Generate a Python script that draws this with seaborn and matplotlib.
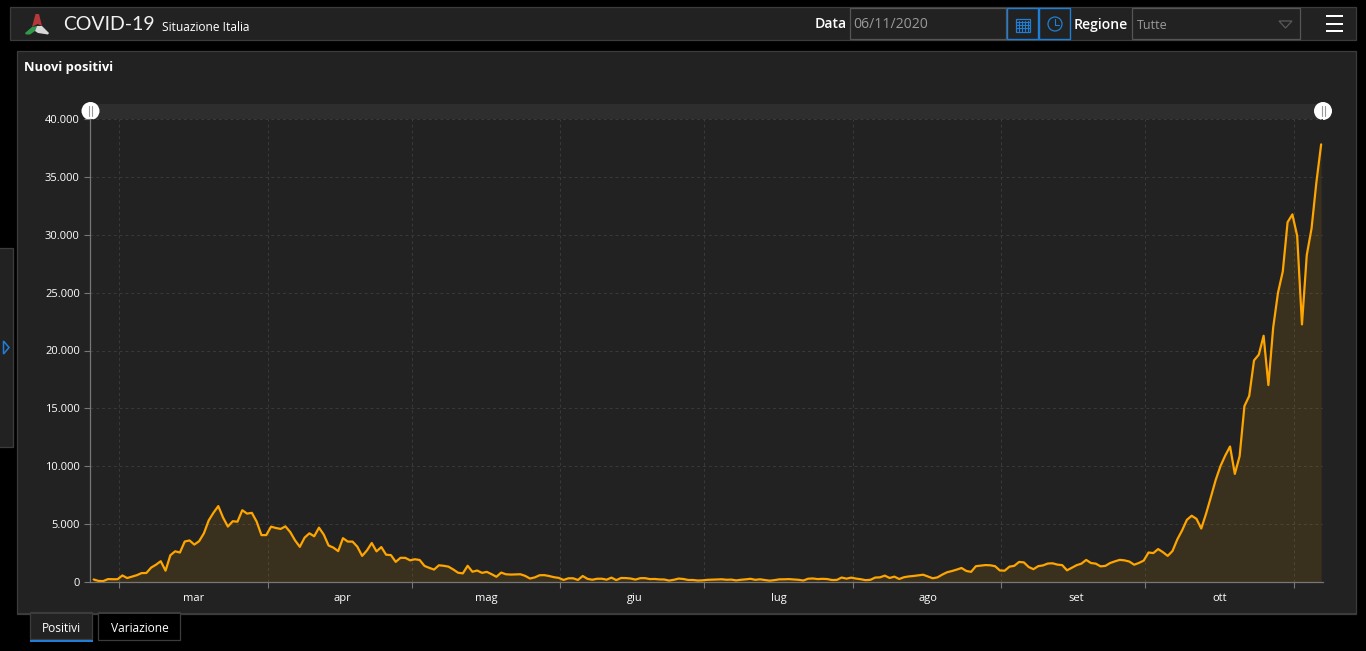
import datetime as dt
import matplotlib
matplotlib.use("Agg")
import matplotlib.pyplot as plt
import matplotlib.dates as mdates
from matplotlib.patches import Rectangle, Circle, Polygon
import pandas as pd
import seaborn as sns

feb = [221, 93, 78, 250, 238, 240]
mar = [566, 342, 466, 587, 769, 778, 1247, 1492, 1797, 977, 2313, 2651, 2547, 3497, 3590, 3233,
       3526, 4207, 5322, 5986, 6557, 5560, 4789, 5249, 5210, 6203, 5909, 5974, 5217, 4050, 4053]
apr = [4782, 4668, 4585, 4805, 4316, 3599, 3039, 3836, 4204, 3951, 4694, 4092, 3153, 2972, 2667,
       3786, 3493, 3491, 3047, 2256, 2729, 3370, 2646, 3021, 2357, 2324, 1739, 2091, 2086, 1872]
may = [1965, 1900, 1389, 1221, 1075, 1444, 1401, 1327, 1083, 802, 744, 1402, 888, 992, 789, 875,
       675, 451, 813, 665, 642, 652, 669, 531, 300, 397, 584, 593, 516, 416, 355]
jun = [178, 318, 321, 177, 518, 270, 197, 280, 283, 202, 379, 163, 346, 338, 301, 210, 329, 333,
       251, 262, 224, 218, 122, 190, 296, 259, 175, 174, 126, 142]
jul = [187, 201, 223, 235, 192, 208, 138, 193, 229, 276, 188, 234, 169, 114, 162, 230, 233, 249,
       219, 190, 129, 282, 306, 252, 275, 255, 170, 181, 386, 289, 379]
aug = [295, 239, 159, 190, 384, 402, 552, 347, 463, 259, 412, 481, 522, 574, 629, 479, 320, 403,
       642, 845, 947, 1071, 1210, 953, 878, 1367, 1411, 1462, 1444, 1365, 996]
sep = [978, 1326, 1397, 1733, 1695, 1297, 1108, 1370, 1434, 1597, 1616, 1501, 1458, 1008, 1229,
       1452, 1585, 1907, 1638, 1587, 1350, 1392, 1640, 1786, 1912, 1869, 1766, 1494, 1648, 1851]
oct_ = [2548, 2499, 2844, 2578, 2257, 2677, 3678, 4458, 5372, 5724, 5456, 4619, 5901, 7332, 8804,
        10010, 10925, 11705, 9338, 10874, 15199, 16079, 19143, 19644, 21273, 17012, 21994, 24991,
        26831, 31084, 31758]
nov = [29907, 22253, 28241, 30550, 34505, 37809]

month_labels = ["mar", "apr", "mag", "giu", "lug", "ago", "set", "ott"]
month_starts = ["2020-03-01", "2020-04-01", "2020-05-01", "2020-06-01", "2020-07-01",
                "2020-08-01", "2020-09-01", "2020-10-01", "2020-11-01"]
y_ticks = [0, 5000, 10000, 15000, 20000, 25000, 30000, 35000, 40000]
y_labels = ["0", "5.000", "10.000", "15.000", "20.000", "25.000", "30.000", "35.000", "40.000"]

values = feb + mar + apr + may + jun + jul + aug + sep + oct_ + nov
dates = pd.date_range("2020-02-24 16:00", periods=len(values), freq="D")
df = pd.DataFrame({"data": dates, "nuovi_positivi": values})

sns.set_theme(style="dark")
plt.rcParams["font.family"] = ["Open Sans", "DejaVu Sans"]

W, H = 1366, 651
BG, PANEL, EDGE, BLUE = "#000000", "#222222", "#3c3c3c", "#1f7fd6"
fig = plt.figure(figsize=(W / 100, H / 100), dpi=100, facecolor=BG)

ui = fig.add_axes([0, 0, 1, 1], zorder=0)
ui.set_xlim(0, W)
ui.set_ylim(H, 0)
ui.axis("off")


def box(x0, y0, x1, y1, fc=PANEL, ec=EDGE, lw=0.9, z=1):
    ui.add_patch(Rectangle((x0 - 0.6, y0 - 0.6), x1 - x0, y1 - y0, fc=fc, ec=ec, lw=lw, zorder=z))


def label(x, y, s, size, color="white", ha="left", weight="normal", family=None):
    kw = {"family": family} if family else {}
    ui.text(x, y, s, fontsize=size * 0.72, color=color, ha=ha, va="center", weight=weight, zorder=5, **kw)


box(10.5, 7.5, 1356.5, 40.5)
box(17.5, 51.5, 1356.5, 614.5)
box(-3, 248.5, 13.5, 447.5)
ui.add_patch(Polygon([(3.5, 341), (9, 347.5), (3.5, 354)], closed=True, fc="none", ec=BLUE, lw=1.1, zorder=3))

# logo
ui.add_patch(Polygon([(32, 27), (35.5, 14), (39, 14), (42, 26), (37.5, 24)], closed=True, fc="#b5383a", ec="none", zorder=3))
ui.add_patch(Polygon([(25, 33), (32, 27), (37, 26), (35, 31), (30, 34.5), (26, 34.5)], closed=True, fc="#2e9a4a", ec="none", zorder=3))
ui.add_patch(Polygon([(35, 31), (37, 26), (42, 26), (49, 33), (48, 34.5), (38, 33)], closed=True, fc="#d8d8d8", ec="none", zorder=3))

label(63, 24.5, "COVID-19", 19.5, family=["Lato", "Open Sans"], color="#f2f2f2")
label(162, 27.5, "Situazione Italia", 12)
label(815, 24.5, "Data", 14, weight="semibold")
box(850.5, 8.5, 1006.5, 39.5, ec="#555555")
label(853, 24, "06/11/2020", 14, color="#9a9a9a")
box(1007.5, 8.5, 1038.5, 39.5, ec=BLUE, lw=1.0, z=2)
box(1039.5, 8.5, 1070.5, 39.5, ec=BLUE, lw=1.0, z=2)

# calendar icon
ui.add_patch(Rectangle((1016, 18.5), 14, 13, fc="none", ec=BLUE, lw=0.9, zorder=3))
for yy in (22, 25, 28):
    ui.plot([1016, 1030], [yy, yy], color=BLUE, lw=0.8, zorder=3)
for xx in (1019, 1022, 1025, 1028):
    ui.plot([xx, xx], [21, 31], color=BLUE, lw=0.8, zorder=3)
# clock icon
ui.add_patch(Circle((1055, 24), 7, fc="none", ec=BLUE, lw=0.9, zorder=3))
ui.plot([1055, 1055, 1059], [19, 24.5, 24.5], color=BLUE, lw=0.8, zorder=3)

label(1074, 24.5, "Regione", 14, weight="semibold")
box(1132.5, 8.5, 1300.5, 39.5, ec="#555555")
label(1137, 25.5, "Tutte", 12.5, color="#9a9a9a")
ui.add_patch(Polygon([(1279, 21), (1292, 21), (1285.5, 28)], closed=True, fc="none", ec="#5a5a5a", lw=0.9, zorder=3))
for yy in (16, 23.5, 30.5):
    ui.add_patch(Rectangle((1326, yy - 1), 17, 2, fc="white", ec="none", zorder=3))

label(23.5, 67.5, "Nuovi positivi", 13, weight="bold")

# scrollbar
ui.add_patch(Rectangle((90, 104), 1233, 15, fc="#2e2e2e", ec="none", zorder=2))
for cx in (90.5, 1323):
    ui.add_patch(Circle((cx, 111), 9, fc="white", ec="none", zorder=6))
    ui.plot([cx - 1.5, cx - 1.5], [106, 116], color="#999999", lw=0.8, zorder=7)
    ui.plot([cx + 1.5, cx + 1.5], [106, 116], color="#999999", lw=0.8, zorder=7)

# tabs
box(30.5, 613, 92.5, 640, ec=EDGE)
ui.add_patch(Rectangle((30, 639.5), 63, 2, fc=BLUE, ec="none", zorder=3))
box(98.5, 613, 180.5, 641, fc="#000000", ec=EDGE)
ui.add_patch(Rectangle((17, 613), 1340, 1, fc=EDGE, ec="none", zorder=3))
label(61.5, 628, "Positivi", 12, ha="center")
label(139.5, 628, "Variazione", 12, ha="center")

# chart
PX_L, PX_R, PX_T, PX_B = 90, 1323, 119, 582
ax = fig.add_axes([PX_L / W, 1 - PX_B / H, (PX_R - PX_L) / W, (PX_B - PX_T) / H], zorder=2)
ax.patch.set_alpha(0)
ORANGE = "#ffa500"
ax.fill_between(df["data"], df["nuovi_positivi"], 0, color=ORANGE, alpha=0.11, lw=0)
sns.lineplot(data=df, x="data", y="nuovi_positivi", color=ORANGE, linewidth=1.6, ax=ax, legend=False)

mar1 = mdates.date2num(dt.datetime(2020, 3, 1))
PX_PER_DAY, PX_MAR1 = 4.795, 119.2
ax.set_xlim(mar1 + (PX_L - PX_MAR1) / PX_PER_DAY, mar1 + (PX_R - PX_MAR1) / PX_PER_DAY)
ax.set_ylim(0, 40000)
tick_nums = [mdates.date2num(pd.Timestamp(d)) for d in month_starts]
ax.set_xticks(tick_nums)
ax.set_xticklabels([])
mid_nums = [a + 15.6 for a in tick_nums[:-1]]
ax.set_xticks(mid_nums, minor=True)
ax.set_xticklabels(month_labels, minor=True, fontsize=8, color="white")
ax.set_yticks(y_ticks)
ax.set_yticklabels(y_labels, fontsize=8, color="white")
ax.set_xlabel("")
ax.set_ylabel("")
ax.grid(True, which="major", color="#3a3a3a", linestyle=(0, (3, 3)), linewidth=0.7)
ax.tick_params(axis="x", which="major", length=4, color="#777777", width=0.8, bottom=True)
ax.tick_params(axis="x", which="minor", length=0, pad=8)
ax.tick_params(axis="y", length=4.3, color="#777777", width=0.8, pad=3, left=True)
for side in ("top", "right"):
    ax.spines[side].set_visible(False)
for side in ("left", "bottom"):
    ax.spines[side].set_visible(True)
    ax.spines[side].set_color("#777777")
    ax.spines[side].set_linewidth(0.9)

fig.savefig("out.png", dpi=100, facecolor=BG)
